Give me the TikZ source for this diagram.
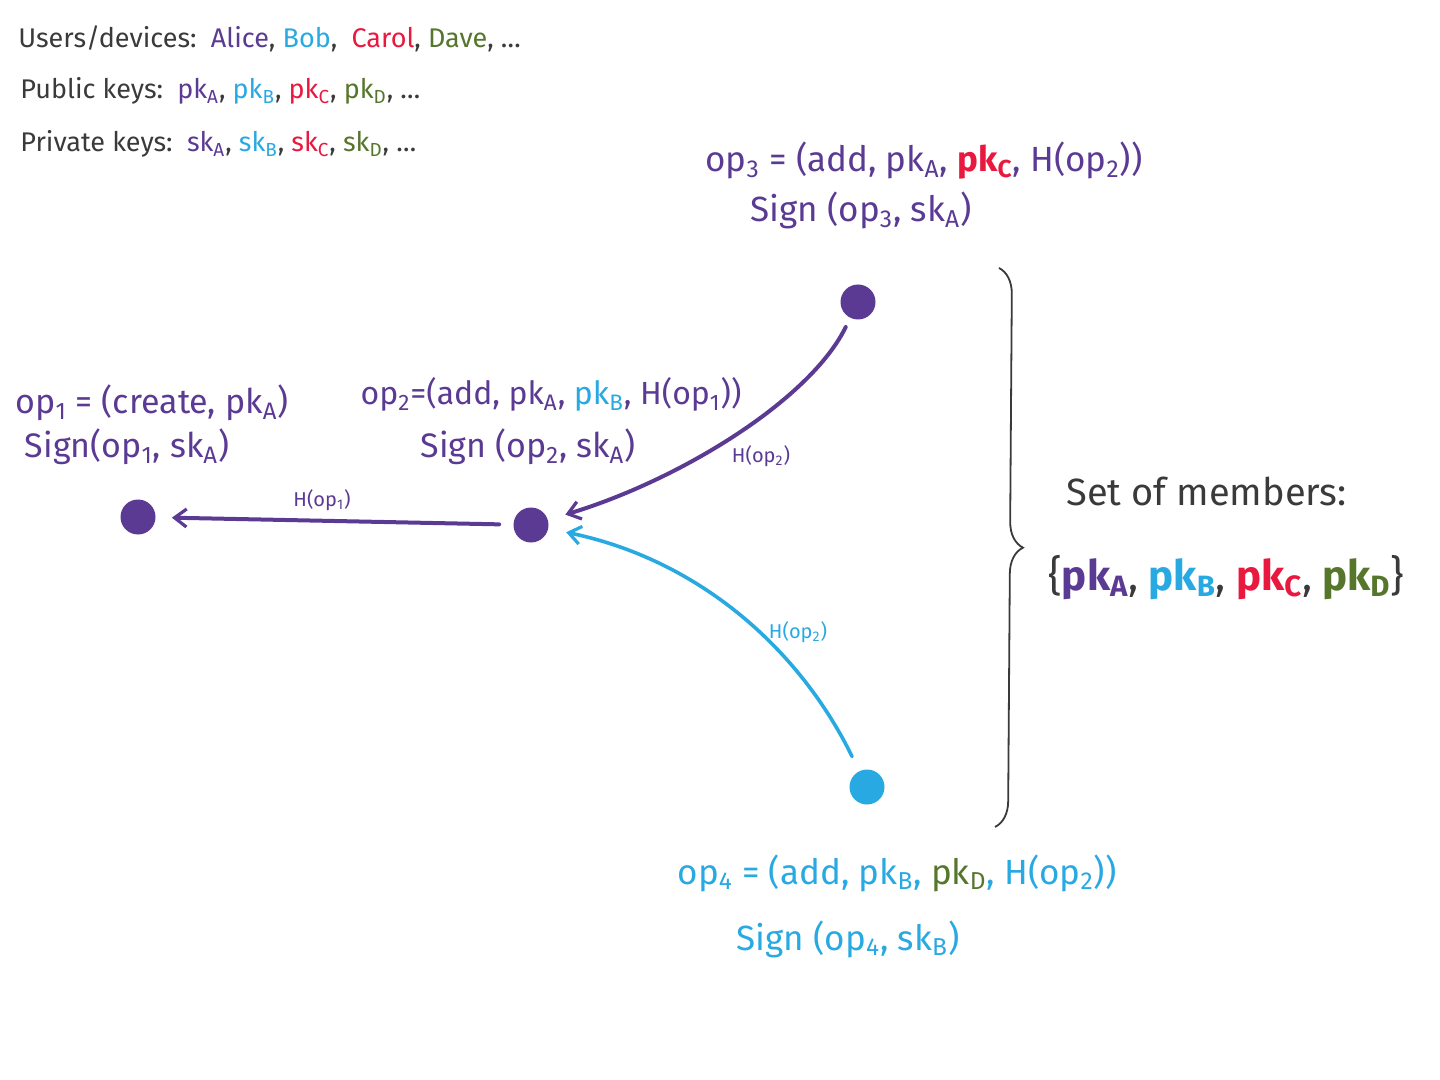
\documentclass[tikz,border=0pt]{standalone}
\usepackage{fontspec}
\setmainfont{Fira Sans}
\usetikzlibrary{arrows.meta,decorations.pathreplacing}
\definecolor{purp}{HTML}{5B3A94}
\definecolor{cyanc}{HTML}{29A9E1}
\definecolor{redc}{HTML}{E8183F}
\definecolor{greenc}{HTML}{56762C}
\definecolor{darkc}{HTML}{3A3A3A}
\newcommand{\sbs}[1]{\textsubscript{#1}}
\newcommand{\cm}{\textmd{\textcolor{darkc}{,}}}
\begin{document}
\begin{tikzpicture}[x=0.5pt,y=-0.5pt,
  lgd/.style={inner sep=0pt,anchor=base west,text=darkc,font=\fontsize{13.5}{15}\selectfont},
  oplab/.style={inner sep=0pt,anchor=base,font=\fontsize{16}{18}\selectfont},
  opbig/.style={inner sep=0pt,anchor=base,font=\fontsize{17.5}{20}\selectfont},
  hlab/.style={inner sep=0pt,font=\fontsize{10}{12}\selectfont},
  dot/.style={circle,fill=#1,draw=none,minimum size=17.5pt,inner sep=0pt},
  arr/.style={draw=#1,line width=2pt,line cap=round,
    -{Straight Barb[length=6pt,width=9pt,line width=1.6pt]}},
  bracestyle/.style={draw=darkc,line width=0.9pt,decorate,
    decoration={brace,amplitude=13pt}}]
\useasboundingbox (0,0) rectangle (1440,1080);

% legend
\node[lgd] (users) at (18,48) {Users/devices:\ \ \textcolor{purp}{Alice}, \textcolor{cyanc}{Bob}, \ \textcolor{redc}{Carol}, \textcolor{greenc}{Dave}, \dots};
\node[lgd] (pubk) at (20,99) {Public keys:\ \ \textcolor{purp}{pk\sbs{A}}, \textcolor{cyanc}{pk\sbs{B}}, \textcolor{redc}{pk\sbs{C}}, \textcolor{greenc}{pk\sbs{D}}, \dots};
\node[lgd] (privk) at (20,152) {Private keys:\ \ \textcolor{purp}{sk\sbs{A}}, \textcolor{cyanc}{sk\sbs{B}}, \textcolor{redc}{sk\sbs{C}}, \textcolor{greenc}{sk\sbs{D}}, \dots};

% dots
\node[dot=purp] (d1) at (138,517) {};
\node[dot=purp] (d2) at (531,525) {};
\node[dot=purp] (d3) at (858,302) {};
\node[dot=cyanc] (d4) at (867,787) {};

% op labels
\node[oplab,text=purp,font=\fontsize{17}{20}\selectfont] (op1a) at (152,414) {op\sbs{1} = (create, pk\sbs{A})};
\node[oplab,text=purp,font=\fontsize{17}{20}\selectfont] (op1b) at (127,458) {Sign(op\sbs{1}, sk\sbs{A})};
\node[oplab,text=purp] (op2a) at (551,405) {op\sbs{2}=(add, pk\sbs{A}, \textcolor{cyanc}{pk\sbs{B}}, H(op\sbs{1}))};
\node[oplab,text=purp,font=\fontsize{17}{20}\selectfont] (op2b) at (528,458) {Sign (op\sbs{2}, sk\sbs{A})};
\node[opbig,text=purp] (op3a) at (924,172) {op\sbs{3} = (add, pk\sbs{A}, \textcolor{redc}{\bfseries pk\sbs{C}}, H(op\sbs{2}))};
\node[opbig,text=purp] (op3b) at (861,222) {Sign (op\sbs{3}, sk\sbs{A})};
\node[opbig,text=cyanc] (op4a) at (897,884) {op\sbs{4} = (add, pk\sbs{B}, \textcolor{greenc}{pk\sbs{D}}, H(op\sbs{2}))};
\node[opbig,text=cyanc] (op4b) at (848,950) {Sign (op\sbs{4}, sk\sbs{B})};

% connectors
\draw[arr=purp,shorten <=7pt,shorten >=8pt] (d2) -- (d1);
\node[hlab,text=purp] (h1) at (322,500) {H(op\sbs{1})};
\draw[arr=purp,shorten <=5pt,shorten >=9pt] (d3) .. controls (810,400) and (680,480) .. (d2);
\node[hlab,text=purp] (h2) at (761,456) {H(op\sbs{2})};
\draw[arr=cyanc,line width=1.8pt,shorten <=8pt,shorten >=9pt] (d4) .. controls (800,650) and (700,560) .. (d2);
\node[hlab,text=cyanc] (h3) at (798,632) {H(op\sbs{2})};

% brace and member set
\coordinate (btop) at (999,268);
\coordinate (bbot) at (995,827);
\draw[bracestyle] (btop) -- (bbot);
\node[inner sep=0pt,anchor=base west,text=darkc,font=\fontsize{19}{22}\selectfont] (setlab) at (1066,505) {Set of members:};
\node[inner sep=0pt,anchor=base west,font=\fontsize{21}{24}\selectfont\bfseries] (setval) at (1048,590)
  {\textmd{\textcolor{darkc}{\{}}\textcolor{purp}{pk\sbs{A}}\cm\ \textcolor{cyanc}{pk\sbs{B}}\cm\ \textcolor{redc}{pk\sbs{C}}\cm\ \textcolor{greenc}{pk\sbs{D}}\textmd{\textcolor{darkc}{\}}}};
\end{tikzpicture}
\end{document}
